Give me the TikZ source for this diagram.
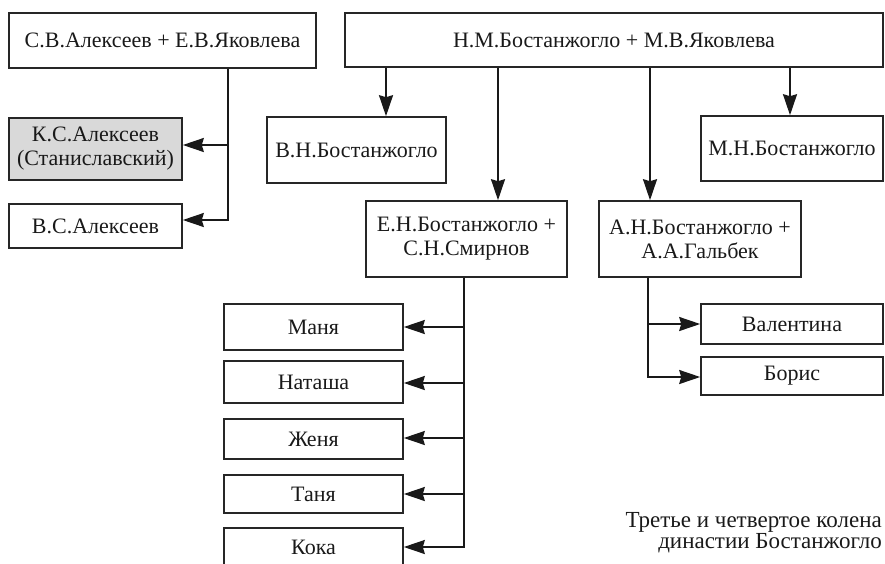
\documentclass[tikz,border=0pt]{standalone}
\usepackage{fontspec}
\setmainfont{Liberation Serif}
\usetikzlibrary{arrows.meta}
\begin{document}
\begin{tikzpicture}[x=1pt,y=-1pt,
  box/.style={draw=black!85, line width=1.6pt, inner sep=1pt, align=center,
    font=\fontsize{22}{24}\selectfont, text=black!90},
  conn/.style={draw=black!90, line width=1.9pt, line join=miter},
  arr/.style={conn, -{Stealth[length=21pt,width=14pt,inset=2pt]}},
  caption/.style={align=right, inner sep=0pt, font=\fontsize{23}{21}\selectfont, text=black!90}]
\useasboundingbox (0,0) rectangle (885,563);
\begin{scope}
\clip (0,0) rectangle (885,563);
% left family
\node[box, minimum width=307pt, minimum height=55pt] (sva) at (162.5,40.5) {С.В.Алексеев + Е.В.Яковлева};
\node[box, fill=black!15, minimum width=173pt, minimum height=62pt] (ks) at (95.5,149) {К.С.Алексеев\\(Станиславский)};
\node[box, minimum width=173pt, minimum height=44pt] (vs) at (95.5,226) {В.С.Алексеев};
% right family
\node[box, minimum width=538pt, minimum height=54pt] (nmb) at (614,40) {Н.М.Бостанжогло + М.В.Яковлева};
\node[box, minimum width=179pt, minimum height=66pt] (vn) at (356.5,150) {В.Н.Бостанжогло};
\node[box, minimum width=182pt, minimum height=65pt] (mn) at (792,148.5) {М.Н.Бостанжогло};
\node[box, minimum width=201pt, minimum height=76pt] (en) at (466.5,239) {Е.Н.Бостанжогло +\\С.Н.Смирнов};
\node[box, minimum width=202pt, minimum height=76pt] (an) at (700,239) {А.Н.Бостанжогло +\\А.А.Гальбек};
% children of E.N.
\node[box, minimum width=179pt, minimum height=46pt] (manya) at (313.5,327) {Маня};
\node[box, minimum width=179pt, minimum height=42pt] (natasha) at (313.5,382) {Наташа};
\node[box, minimum width=179pt, minimum height=40pt] (zhenya) at (313.5,439) {Женя};
\node[box, minimum width=179pt, minimum height=38pt] (tanya) at (313.5,494) {Таня};
\node[box, minimum width=179pt, minimum height=38pt] (koka) at (313.5,547) {Кока};
% children of A.N.
\node[box, minimum width=182pt, minimum height=40pt] (val) at (792,324) {Валентина};
\node[box, minimum width=182pt, minimum height=38pt] (bor) at (792,376) {Борис};
% caption
\node[caption, anchor=north east] (cap) at (882,512) {Третье и четвертое колена\\династии Бостанжогло};
% connectors: left family
\coordinate (ja) at (228,145);
\coordinate (jb) at (228,220);
\draw[arr] (sva.south -| jb) -- (jb) -- (vs.east |- jb);
\draw[arr] (ja) -- (ks.east |- ja);
% connectors: N.M.
\coordinate (c1) at (386,0);
\coordinate (c2) at (498,0);
\coordinate (c3) at (650,0);
\coordinate (c4) at (790,0);
\draw[arr] (nmb.south -| c1) -- (vn.north -| c1);
\draw[arr] (nmb.south -| c2) -- (en.north -| c2);
\draw[arr] (nmb.south -| c3) -- (an.north -| c3);
\draw[arr] (nmb.south -| c4) -- (mn.north -| c4);
% connectors: E.N.
\coordinate (e1) at (464,327);
\coordinate (e2) at (464,383);
\coordinate (e3) at (464,438);
\coordinate (e4) at (464,494);
\coordinate (e5) at (464,547);
\draw[arr] (en.south -| e5) -- (e5) -- (koka.east |- e5);
\draw[arr] (e1) -- (manya.east |- e1);
\draw[arr] (e2) -- (natasha.east |- e2);
\draw[arr] (e3) -- (zhenya.east |- e3);
\draw[arr] (e4) -- (tanya.east |- e4);
% connectors: A.N.
\coordinate (a1) at (648,324);
\coordinate (a2) at (648,377);
\draw[arr] (an.south -| a2) -- (a2) -- (bor.west |- a2);
\draw[arr] (a1) -- (val.west |- a1);
\end{scope}
\end{tikzpicture}
\end{document}
